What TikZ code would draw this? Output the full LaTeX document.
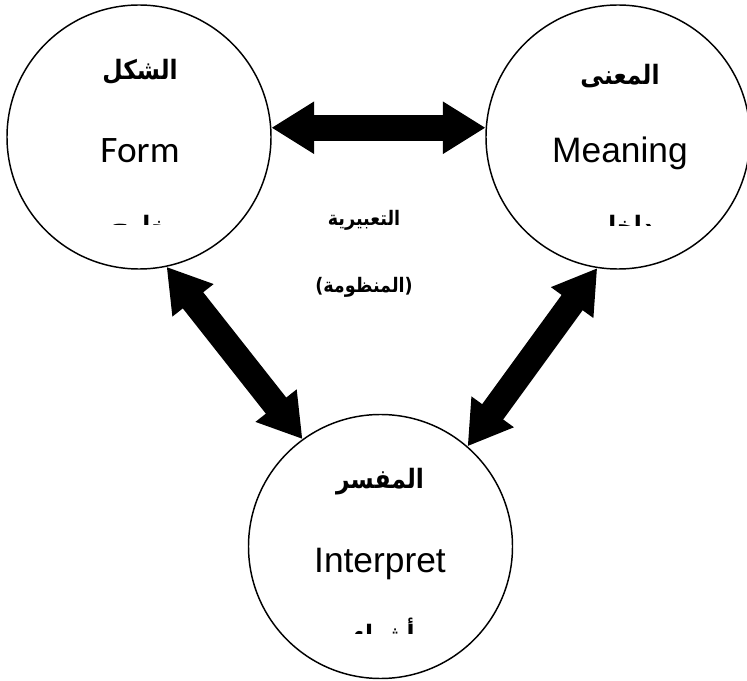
\documentclass[tikz,border=0pt]{standalone}
\usepackage{fontspec}
\setmainfont{Liberation Sans}
\newfontfamily\arabicfont[Script=Arabic, FakeStretch=0.88]{DejaVu Sans}
\newfontfamily\formfont{Carlito}
\TeXXeTstate=1
\usetikzlibrary{arrows.meta}

\begin{document}
\begin{tikzpicture}[x=0.75pt, y=-0.75pt,
    bubble/.style={circle, draw, line width=1.1pt, minimum size=198pt, inner sep=0pt},
    artext/.style={font=\arabicfont\bfseries\fontsize{20}{24}\selectfont, inner sep=0pt},
    midtext/.style={font=\arabicfont\bfseries\fontsize{15}{18}\selectfont, inner sep=0pt},
    entext/.style={font=\fontsize{26.5}{30}\selectfont, inner sep=0pt, anchor=base},
    link/.style={line width=19.5pt,
      {Triangle[width=37pt, length=32pt]}-{Triangle[width=37pt, length=32pt]}}]
  \useasboundingbox (0, 0) rectangle (747, 681);

  \node[bubble] (form) at (139, 137) {};
  \node[bubble] (meaning) at (618, 137) {};
  \node[bubble] (interp) at (380.5, 546.5) {};

  \node[artext] (formar) at (140, 72) {\beginR الشكل\endR};
  \node[entext, font=\formfont\fontsize{28}{32}\selectfont] (formen) at (140, 163) {Form};
  \begin{scope}
    \clip (60, 200) rectangle (220, 225);
    \node[artext, anchor=base] (formsub) at (140, 236) {\beginR خارج\endR};
  \end{scope}

  \node[artext] (meaningar) at (620, 76) {\beginR المعنى\endR};
  \node[entext] (meaningen) at (620, 163) {Meaning};
  \begin{scope}
    \clip (540, 200) rectangle (700, 226);
    \node[artext, anchor=base] (meaningsub) at (625, 236) {\beginR داخل\endR};
  \end{scope}

  \node[artext] (interpar) at (380, 482) {\beginR المفسر\endR};
  \node[entext] (interpen) at (380, 572) {Interpret};
  \begin{scope}
    \clip (300, 610) rectangle (460, 633);
    \node[artext, anchor=base] (interpsub) at (384, 644) {\beginR أشياء\endR};
  \end{scope}

  \node[midtext] (system1) at (364, 220) {\beginR التعبيرية\endR};
  \node[midtext] (system2) at (364, 287) {\beginR (المنظومة)\endR};

  \draw[link] (form.4) -- (meaning.176);
  \draw[link] (form.-78) -- (interp.126);
  \draw[link] (meaning.-99) -- (interp.49);
\end{tikzpicture}
\end{document}
